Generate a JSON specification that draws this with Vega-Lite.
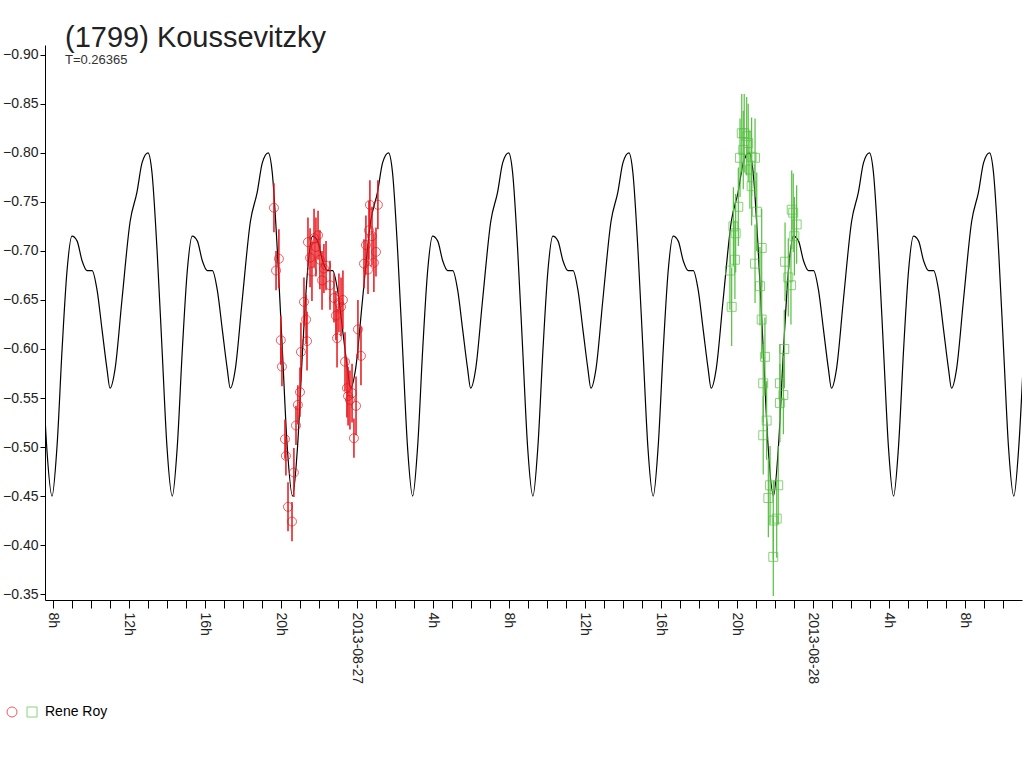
{
"$schema":"https://vega.github.io/schema/vega-lite/v6.json",
"width":977,"height":555,
"autosize":{"type":"none"},
"padding":{"left":45,"top":45,"right":2,"bottom":168},
"background":"white",
"config":{"view":{"stroke":null},"font":"Liberation Sans"},
"title":{"text":"(1799) Koussevitzky","subtitle":"T=0.26365","anchor":"start","frame":"group","offset":-22,"dx":20,"fontSize":29,"fontWeight":"normal","color":"#222","subtitleFontSize":13,"subtitleColor":"#333","subtitlePadding":1},
"datasets":{
"model":[
{"t":7.41,"m":-0.60},{"t":7.67,"m":-0.50},
{"t":7.95,"m":-0.45},{"t":8.21,"m":-0.50},{"t":8.48,"m":-0.60},{"t":8.74,"m":-0.68},{"t":9.00,"m":-0.715},{"t":9.27,"m":-0.71},{"t":9.53,"m":-0.69},{"t":9.79,"m":-0.68},{"t":10.06,"m":-0.68},{"t":10.32,"m":-0.66},{"t":10.58,"m":-0.62},{"t":10.84,"m":-0.58},{"t":11.00,"m":-0.56},{"t":11.27,"m":-0.58},{"t":11.63,"m":-0.65},{"t":12.06,"m":-0.73},{"t":12.42,"m":-0.76},{"t":12.69,"m":-0.79},{"t":13.00,"m":-0.80},{"t":13.21,"m":-0.78},{"t":13.48,"m":-0.70},{"t":13.74,"m":-0.60},{"t":14.00,"m":-0.50},
{"t":14.28,"m":-0.45},{"t":14.54,"m":-0.50},{"t":14.81,"m":-0.60},{"t":15.07,"m":-0.68},{"t":15.33,"m":-0.715},{"t":15.60,"m":-0.71},{"t":15.86,"m":-0.69},{"t":16.12,"m":-0.68},{"t":16.39,"m":-0.68},{"t":16.65,"m":-0.66},{"t":16.91,"m":-0.62},{"t":17.17,"m":-0.58},{"t":17.33,"m":-0.56},{"t":17.60,"m":-0.58},{"t":17.96,"m":-0.65},{"t":18.39,"m":-0.73},{"t":18.75,"m":-0.76},{"t":19.02,"m":-0.79},{"t":19.33,"m":-0.80},{"t":19.54,"m":-0.78},{"t":19.81,"m":-0.70},{"t":20.07,"m":-0.60},{"t":20.33,"m":-0.50},
{"t":20.61,"m":-0.45},{"t":20.87,"m":-0.50},{"t":21.14,"m":-0.60},{"t":21.40,"m":-0.68},{"t":21.66,"m":-0.715},{"t":21.93,"m":-0.71},{"t":22.19,"m":-0.69},{"t":22.45,"m":-0.68},{"t":22.72,"m":-0.68},{"t":22.98,"m":-0.66},{"t":23.24,"m":-0.62},{"t":23.50,"m":-0.58},{"t":23.66,"m":-0.56},{"t":23.93,"m":-0.58},{"t":24.29,"m":-0.65},{"t":24.72,"m":-0.73},{"t":25.08,"m":-0.76},{"t":25.35,"m":-0.79},{"t":25.66,"m":-0.80},{"t":25.87,"m":-0.78},{"t":26.14,"m":-0.70},{"t":26.40,"m":-0.60},{"t":26.66,"m":-0.50},
{"t":26.93,"m":-0.45},{"t":27.19,"m":-0.50},{"t":27.46,"m":-0.60},{"t":27.72,"m":-0.68},{"t":27.98,"m":-0.715},{"t":28.25,"m":-0.71},{"t":28.51,"m":-0.69},{"t":28.77,"m":-0.68},{"t":29.04,"m":-0.68},{"t":29.30,"m":-0.66},{"t":29.56,"m":-0.62},{"t":29.82,"m":-0.58},{"t":29.98,"m":-0.56},{"t":30.25,"m":-0.58},{"t":30.61,"m":-0.65},{"t":31.04,"m":-0.73},{"t":31.40,"m":-0.76},{"t":31.67,"m":-0.79},{"t":31.98,"m":-0.80},{"t":32.19,"m":-0.78},{"t":32.46,"m":-0.70},{"t":32.72,"m":-0.60},{"t":32.98,"m":-0.50},
{"t":33.26,"m":-0.45},{"t":33.52,"m":-0.50},{"t":33.79,"m":-0.60},{"t":34.05,"m":-0.68},{"t":34.31,"m":-0.715},{"t":34.58,"m":-0.71},{"t":34.84,"m":-0.69},{"t":35.10,"m":-0.68},{"t":35.37,"m":-0.68},{"t":35.63,"m":-0.66},{"t":35.89,"m":-0.62},{"t":36.15,"m":-0.58},{"t":36.31,"m":-0.56},{"t":36.58,"m":-0.58},{"t":36.94,"m":-0.65},{"t":37.37,"m":-0.73},{"t":37.73,"m":-0.76},{"t":38.00,"m":-0.79},{"t":38.31,"m":-0.80},{"t":38.52,"m":-0.78},{"t":38.79,"m":-0.70},{"t":39.05,"m":-0.60},{"t":39.31,"m":-0.50},
{"t":39.59,"m":-0.45},{"t":39.85,"m":-0.50},{"t":40.12,"m":-0.60},{"t":40.38,"m":-0.68},{"t":40.64,"m":-0.715},{"t":40.91,"m":-0.71},{"t":41.17,"m":-0.69},{"t":41.43,"m":-0.68},{"t":41.70,"m":-0.68},{"t":41.96,"m":-0.66},{"t":42.22,"m":-0.62},{"t":42.48,"m":-0.58},{"t":42.64,"m":-0.56},{"t":42.91,"m":-0.58},{"t":43.27,"m":-0.65},{"t":43.70,"m":-0.73},{"t":44.06,"m":-0.76},{"t":44.33,"m":-0.79},{"t":44.64,"m":-0.80},{"t":44.85,"m":-0.78},{"t":45.12,"m":-0.70},{"t":45.38,"m":-0.60},{"t":45.64,"m":-0.50},
{"t":45.92,"m":-0.45},{"t":46.18,"m":-0.50},{"t":46.45,"m":-0.60},{"t":46.71,"m":-0.68},{"t":46.97,"m":-0.715},{"t":47.24,"m":-0.71},{"t":47.50,"m":-0.69},{"t":47.76,"m":-0.68},{"t":48.03,"m":-0.68},{"t":48.29,"m":-0.66},{"t":48.55,"m":-0.62},{"t":48.81,"m":-0.58},{"t":48.97,"m":-0.56},{"t":49.24,"m":-0.58},{"t":49.60,"m":-0.65},{"t":50.03,"m":-0.73},{"t":50.39,"m":-0.76},{"t":50.66,"m":-0.79},{"t":50.97,"m":-0.80},{"t":51.18,"m":-0.78},{"t":51.45,"m":-0.70},{"t":51.71,"m":-0.60},{"t":51.97,"m":-0.50},
{"t":52.24,"m":-0.45},{"t":52.50,"m":-0.50},{"t":52.77,"m":-0.60},{"t":53.03,"m":-0.68},{"t":53.29,"m":-0.715},{"t":53.56,"m":-0.71},{"t":53.82,"m":-0.69},{"t":54.08,"m":-0.68},{"t":54.35,"m":-0.68},{"t":54.61,"m":-0.66},{"t":54.87,"m":-0.62},{"t":55.13,"m":-0.58},{"t":55.29,"m":-0.56},{"t":55.56,"m":-0.58},{"t":55.92,"m":-0.65},{"t":56.35,"m":-0.73},{"t":56.71,"m":-0.76},{"t":56.98,"m":-0.79},{"t":57.29,"m":-0.80},{"t":57.50,"m":-0.78},{"t":57.77,"m":-0.70},{"t":58.03,"m":-0.60},{"t":58.29,"m":-0.50},
{"t":58.57,"m":-0.45},{"t":58.83,"m":-0.50},{"t":59.10,"m":-0.60}
],
"obs":[
{"s":"a","t":19.63,"m":-0.744,"e":0.025},{"s":"a","t":19.74,"m":-0.680,"e":0.02},{"s":"a","t":19.89,"m":-0.692,"e":0.03},{"s":"a","t":19.99,"m":-0.609,"e":0.025},{"s":"a","t":20.05,"m":-0.582,"e":0.02},{"s":"a","t":20.21,"m":-0.508,"e":0.02},{"s":"a","t":20.26,"m":-0.491,"e":0.02},{"s":"a","t":20.37,"m":-0.439,"e":0.025},{"s":"a","t":20.58,"m":-0.424,"e":0.02},{"s":"a","t":20.68,"m":-0.474,"e":0.025},{"s":"a","t":20.79,"m":-0.522,"e":0.02},{"s":"a","t":20.89,"m":-0.543,"e":0.02},{"s":"a","t":21.0,"m":-0.556,"e":0.025},{"s":"a","t":21.05,"m":-0.597,"e":0.03},{"s":"a","t":21.21,"m":-0.648,"e":0.025},{"s":"a","t":21.32,"m":-0.630,"e":0.025},{"s":"a","t":21.37,"m":-0.608,"e":0.03},{"s":"a","t":21.42,"m":-0.709,"e":0.025},{"s":"a","t":21.53,"m":-0.693,"e":0.03},{"s":"a","t":21.63,"m":-0.679,"e":0.03},{"s":"a","t":21.74,"m":-0.713,"e":0.03},{"s":"a","t":21.84,"m":-0.704,"e":0.03},{"s":"a","t":21.95,"m":-0.716,"e":0.025},{"s":"a","t":22.05,"m":-0.691,"e":0.03},{"s":"a","t":22.16,"m":-0.670,"e":0.03},{"s":"a","t":22.26,"m":-0.682,"e":0.025},{"s":"a","t":22.37,"m":-0.685,"e":0.025},{"s":"a","t":22.58,"m":-0.665,"e":0.025},{"s":"a","t":22.79,"m":-0.652,"e":0.025},{"s":"a","t":22.89,"m":-0.634,"e":0.025},{"s":"a","t":22.95,"m":-0.611,"e":0.03},{"s":"a","t":23.05,"m":-0.647,"e":0.03},{"s":"a","t":23.16,"m":-0.643,"e":0.03},{"s":"a","t":23.26,"m":-0.650,"e":0.03},{"s":"a","t":23.37,"m":-0.587,"e":0.03},{"s":"a","t":23.47,"m":-0.560,"e":0.03},{"s":"a","t":23.53,"m":-0.552,"e":0.03},{"s":"a","t":23.63,"m":-0.548,"e":0.03},{"s":"a","t":23.74,"m":-0.555,"e":0.03},{"s":"a","t":23.84,"m":-0.509,"e":0.02},{"s":"a","t":23.95,"m":-0.542,"e":0.03},{"s":"a","t":24.05,"m":-0.620,"e":0.03},{"s":"a","t":24.21,"m":-0.593,"e":0.03},{"s":"a","t":24.37,"m":-0.687,"e":0.025},{"s":"a","t":24.47,"m":-0.706,"e":0.03},{"s":"a","t":24.58,"m":-0.681,"e":0.025},{"s":"a","t":24.63,"m":-0.721,"e":0.03},{"s":"a","t":24.68,"m":-0.747,"e":0.025},{"s":"a","t":24.79,"m":-0.715,"e":0.03},{"s":"a","t":24.89,"m":-0.688,"e":0.03},{"s":"a","t":25.0,"m":-0.699,"e":0.025},{"s":"a","t":25.1,"m":-0.747,"e":0.025},
{"s":"b","t":43.72,"m":-0.643,"e":0.04},{"s":"b","t":43.63,"m":-0.680,"e":0.04},{"s":"b","t":43.81,"m":-0.725,"e":0.04},{"s":"b","t":43.93,"m":-0.718,"e":0.04},{"s":"b","t":43.89,"m":-0.691,"e":0.04},{"s":"b","t":44.07,"m":-0.745,"e":0.04},{"s":"b","t":44.16,"m":-0.795,"e":0.04},{"s":"b","t":44.25,"m":-0.820,"e":0.04},{"s":"b","t":44.33,"m":-0.803,"e":0.04},{"s":"b","t":44.38,"m":-0.820,"e":0.04},{"s":"b","t":44.51,"m":-0.817,"e":0.04},{"s":"b","t":44.59,"m":-0.810,"e":0.04},{"s":"b","t":44.68,"m":-0.783,"e":0.04},{"s":"b","t":44.77,"m":-0.766,"e":0.04},{"s":"b","t":44.77,"m":-0.796,"e":0.04},{"s":"b","t":44.95,"m":-0.795,"e":0.04},{"s":"b","t":45.04,"m":-0.740,"e":0.04},{"s":"b","t":44.95,"m":-0.687,"e":0.04},{"s":"b","t":45.30,"m":-0.703,"e":0.04},{"s":"b","t":45.21,"m":-0.664,"e":0.04},{"s":"b","t":45.30,"m":-0.630,"e":0.04},{"s":"b","t":45.47,"m":-0.592,"e":0.04},{"s":"b","t":45.38,"m":-0.565,"e":0.04},{"s":"b","t":45.56,"m":-0.527,"e":0.04},{"s":"b","t":45.38,"m":-0.512,"e":0.04},{"s":"b","t":45.74,"m":-0.461,"e":0.04},{"s":"b","t":45.65,"m":-0.448,"e":0.04},{"s":"b","t":45.91,"m":-0.425,"e":0.04},{"s":"b","t":45.91,"m":-0.388,"e":0.04},{"s":"b","t":46.17,"m":-0.461,"e":0.04},{"s":"b","t":46.09,"m":-0.427,"e":0.04},{"s":"b","t":46.26,"m":-0.545,"e":0.04},{"s":"b","t":46.44,"m":-0.553,"e":0.04},{"s":"b","t":46.26,"m":-0.565,"e":0.04},{"s":"b","t":46.49,"m":-0.600,"e":0.04},{"s":"b","t":46.70,"m":-0.673,"e":0.04},{"s":"b","t":46.84,"m":-0.665,"e":0.04},{"s":"b","t":46.53,"m":-0.689,"e":0.04},{"s":"b","t":46.88,"m":-0.742,"e":0.04},{"s":"b","t":47.02,"m":-0.715,"e":0.04},{"s":"b","t":47.14,"m":-0.727,"e":0.04},{"s":"b","t":46.96,"m":-0.739,"e":0.04}
]},
"encoding":{
"x":{"field":"t","type":"quantitative","scale":{"domain":[7.58,59.0],"nice":false,"zero":false},
 "axis":{"title":null,"grid":false,"values":[8,9,10,11,12,13,14,15,16,17,18,19,20,21,22,23,24,25,26,27,28,29,30,31,32,33,34,35,36,37,38,39,40,41,42,43,44,45,46,47,48,49,50,51,52,53,54,55,56,57,58],
 "labelExpr":"datum.value==24?'2013-08-27':datum.value==48?'2013-08-28':(datum.value%4==0?(datum.value%24)+'h':'')",
 "labelAngle":90,"labelAlign":"left","labelBaseline":"middle","labelFontSize":14,"labelColor":"#222","tickColor":"black","domainColor":"black","tickSize":8,"labelPadding":4,"labelOverlap":false,"labelBound":false}},
"y":{"field":"m","type":"quantitative","scale":{"domain":[-0.91,-0.344],"reverse":true,"nice":false,"zero":false},
 "axis":{"title":null,"grid":false,"values":[-0.9,-0.85,-0.8,-0.75,-0.7,-0.65,-0.6,-0.55,-0.5,-0.45,-0.4,-0.35],"format":".2f","labelFontSize":14,"labelColor":"#222","tickColor":"black","domainColor":"black","tickSize":5,"labelPadding":2}}
},
"layer":[
{"data":{"name":"model"},"mark":{"type":"line","color":"black","strokeWidth":1.2,"interpolate":"monotone","clip":true},"encoding":{}},
{"data":{"name":"obs"},"transform":[{"filter":"datum.s=='a'"}],"mark":{"type":"errorbar","color":"#e8141a","thickness":1.5},"encoding":{"yError":{"field":"e"}}},
{"data":{"name":"obs"},"transform":[{"filter":"datum.s=='b'"}],"mark":{"type":"errorbar","color":"#55c040","thickness":1.2},"encoding":{"yError":{"field":"e"}}},
{"data":{"name":"obs"},"mark":{"type":"point","filled":false,"strokeWidth":1,"size":80},
 "encoding":{"shape":{"field":"s","type":"nominal","scale":{"domain":["a","b"],"range":["circle","square"]},
   "legend":{"title":null,"orient":"none","legendX":-40,"legendY":660,"direction":"horizontal","labelExpr":"datum.value=='b'?'Rene Roy':''","labelFontSize":14,"columnPadding":0,"symbolSize":100,"symbolStrokeWidth":1,"labelOffset":6,"padding":0}},
  "color":{"field":"s","type":"nominal","scale":{"domain":["a","b"],"range":["#e8141a","#55c040"]},
   "legend":{"title":null,"orient":"none","legendX":-40,"legendY":660,"direction":"horizontal","labelExpr":"datum.value=='b'?'Rene Roy':''","labelFontSize":14,"columnPadding":0,"symbolSize":100,"symbolStrokeWidth":1,"labelOffset":6,"padding":0}}}}
]
}
